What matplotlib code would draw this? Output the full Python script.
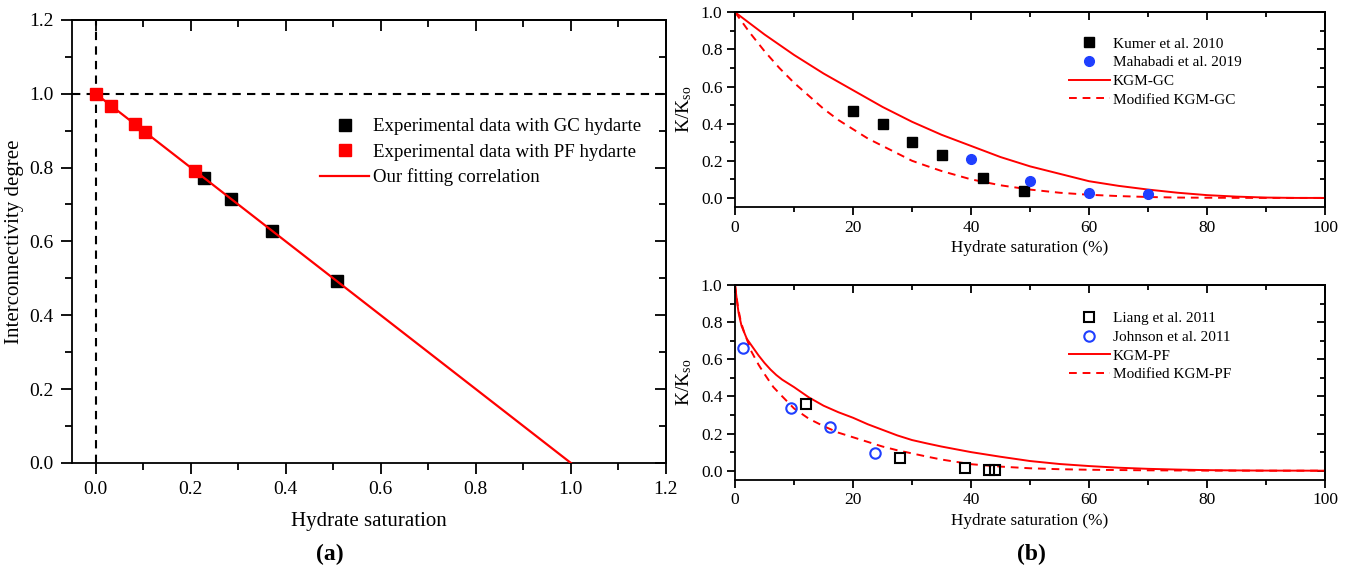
import numpy as np
import matplotlib
matplotlib.use('Agg')
import matplotlib.pyplot as plt
from matplotlib.ticker import MultipleLocator

plt.rcParams['font.family'] = ['Liberation Serif', 'DejaVu Serif']
plt.rcParams['mathtext.fontset'] = 'custom'
plt.rcParams['mathtext.rm'] = 'Liberation Serif'
plt.rcParams['mathtext.it'] = 'Liberation Serif:italic'

# (a) interconnectivity degree vs hydrate saturation
gc_sh = [0.228, 0.285, 0.372, 0.507]
gc_deg = [0.773, 0.714, 0.628, 0.493]
pf_sh = [0.0, 0.033, 0.083, 0.103, 0.210]
pf_deg = [1.0, 0.967, 0.917, 0.897, 0.790]
fit_sh = [0.0, 1.0]
fit_deg = [1.0, 0.0]

# (b) top: GC hydrate
kumer_sh = [20, 25, 30, 35, 42, 49]
kumer_k = [0.47, 0.40, 0.30, 0.23, 0.105, 0.036]
maha_sh = [40, 50, 60, 70]
maha_k = [0.21, 0.089, 0.029, 0.02]
kgm_gc_sh = [0, 2.5, 5, 7.5, 10, 12.5, 15, 17.5, 20, 22.5, 25, 27.5, 30, 32.5, 35, 37.5, 40,
             45, 50, 55, 60, 65, 70, 75, 80, 85, 90, 95, 100]
kgm_gc_k = [1.0, 0.94, 0.88, 0.825, 0.77, 0.72, 0.67, 0.625, 0.58, 0.535, 0.49, 0.45, 0.41,
            0.375, 0.34, 0.31, 0.28, 0.22, 0.17, 0.13, 0.09, 0.065, 0.045, 0.028, 0.015,
            0.007, 0.002, 0.0, 0.0]
mkgm_gc_sh = [0, 2.5, 5, 7.5, 10, 12.5, 15, 17.5, 20, 22.5, 25, 27.5, 30, 32.5, 35, 40, 45,
              50, 55, 60, 65, 70, 75, 80, 90, 100]
mkgm_gc_k = [1.0, 0.89, 0.79, 0.70, 0.62, 0.55, 0.48, 0.42, 0.37, 0.32, 0.28, 0.24, 0.20,
             0.172, 0.145, 0.10, 0.068, 0.045, 0.028, 0.017, 0.01, 0.005, 0.002, 0.001, 0.0, 0.0]

# (b) bottom: PF hydrate
liang_sh = [12, 28, 39, 43, 44]
liang_k = [0.357, 0.07, 0.012, 0.004, 0.004]
johnson_sh = [1.4, 9.5, 16.1, 23.8]
johnson_k = [0.66, 0.34, 0.235, 0.093]
kgm_pf_sh = [0, 0.3, 0.6, 1.1, 2, 3, 4, 5, 6, 7, 8, 9, 10, 12.5, 15, 17.5, 20, 22.5, 25, 27.5,
             30, 32.5, 35, 37.5, 40, 45, 50, 55, 60, 65, 70, 75, 80, 85, 90, 100]
kgm_pf_k = [1.0, 0.92, 0.85, 0.78, 0.71, 0.665, 0.62, 0.58, 0.545, 0.515, 0.49, 0.47, 0.45,
            0.395, 0.35, 0.315, 0.285, 0.25, 0.22, 0.19, 0.165, 0.147, 0.13, 0.115, 0.10,
            0.075, 0.052, 0.036, 0.025, 0.016, 0.01, 0.006, 0.003, 0.0015, 0.0005, 0.0]
mkgm_pf_sh = [0, 0.5, 1, 1.5, 2.8, 4, 5, 6.5, 8, 10, 12.5, 15, 17.5, 20, 22.5, 25, 27.5, 30,
              32.5, 35, 40, 45, 50, 55, 60, 70, 80, 90, 100]
mkgm_pf_k = [1.0, 0.88, 0.80, 0.75, 0.64, 0.57, 0.52, 0.45, 0.40, 0.335, 0.28, 0.24, 0.205,
             0.18, 0.155, 0.13, 0.11, 0.093, 0.076, 0.06, 0.035, 0.022, 0.013, 0.008, 0.005,
             0.002, 0.0005, 0.0, 0.0]

RED = '#ff0000'
BLUE = '#1f3fff'


def mirror_ticks(ax, xmaj, xmin, ymaj, ymin, major_len, minor_len):
    # bottom/left ticks point out, top/right ones point in
    ax.tick_params(which='major', direction='out', length=major_len, width=1.3)
    ax.tick_params(which='minor', direction='out', length=minor_len, width=1.3)
    ax.xaxis.set_major_locator(MultipleLocator(xmaj))
    ax.xaxis.set_minor_locator(MultipleLocator(xmin))
    ax.yaxis.set_major_locator(MultipleLocator(ymaj))
    ax.yaxis.set_minor_locator(MultipleLocator(ymin))
    sx = ax.secondary_xaxis('top')
    sx.xaxis.set_major_locator(MultipleLocator(xmaj))
    sx.xaxis.set_minor_locator(MultipleLocator(xmin))
    sx.tick_params(which='major', direction='in', length=major_len, width=1.3, labeltop=False)
    sx.tick_params(which='minor', direction='in', length=minor_len, width=1.3)
    sy = ax.secondary_yaxis('right')
    sy.yaxis.set_major_locator(MultipleLocator(ymaj))
    sy.yaxis.set_minor_locator(MultipleLocator(ymin))
    sy.tick_params(which='major', direction='in', length=major_len, width=1.3, labelright=False)
    sy.tick_params(which='minor', direction='in', length=minor_len, width=1.3)
    for s in list(ax.spines.values()) + list(sx.spines.values()) + list(sy.spines.values()):
        s.set_linewidth(1.3)


fig = plt.figure(figsize=(13.45, 5.74), dpi=100)

# ---- panel (a)
ax = fig.add_axes([0.0535, 0.1934, 0.4416, 0.772])
ax.axhline(1.0, color='black', lw=1.5, ls=(0, (4, 3)), zorder=1)
ax.axvline(0.0, color='black', lw=1.5, ls=(0, (4, 3)), zorder=1)
ax.plot(gc_sh, gc_deg, 's', color='black', ms=8, label='Experimental data with GC hydarte', zorder=3)
ax.plot(pf_sh, pf_deg, 's', color=RED, ms=8, label='Experimental data with PF hydarte', zorder=3)
ax.plot(fit_sh, fit_deg, '-', color=RED, lw=1.6, label='Our fitting correlation', zorder=4)
ax.set_xlim(-0.05, 1.2)
ax.set_ylim(0, 1.2)
mirror_ticks(ax, 0.2, 0.1, 0.2, 0.1, 8, 5)
ax.xaxis.set_major_formatter(lambda v, p: f'{v:.1f}')
ax.yaxis.set_major_formatter(lambda v, p: f'{v:.1f}')
ax.tick_params(labelsize=14, pad=5)
ax.set_xlabel('Hydrate saturation', fontsize=15, labelpad=10)
ax.set_ylabel('Interconnectivity degree', fontsize=15, labelpad=4)
ax.legend(loc='upper left', bbox_to_anchor=(0.405, 0.795), frameon=False, fontsize=13.6,
          handlelength=2.6, handletextpad=0.2, labelspacing=0.42, borderaxespad=0)
fig.text(0.245, 0.025, '(a)', fontsize=17, fontweight='bold', ha='center')

# ---- panel (b) top
ax1 = fig.add_axes([0.5465, 0.639, 0.4387, 0.3397])
ax1.plot(kumer_sh, kumer_k, 's', color='black', ms=6.5, label='Kumer et al. 2010', zorder=3)
ax1.plot(maha_sh, maha_k, 'o', color=BLUE, ms=7, label='Mahabadi et al. 2019', zorder=3)
ax1.plot(kgm_gc_sh, kgm_gc_k, '-', color=RED, lw=1.4, label='KGM-GC')
ax1.plot(mkgm_gc_sh, mkgm_gc_k, '--', color=RED, lw=1.4, dashes=(4, 3), label='Modified KGM-GC')

# ---- panel (b) bottom
ax2 = fig.add_axes([0.5465, 0.1638, 0.4387, 0.3397])
ax2.plot(liang_sh, liang_k, 's', mfc='none', mec='black', mew=1.5, ms=6.5, label='Liang et al. 2011', zorder=3)
ax2.plot(johnson_sh, johnson_k, 'o', mfc='none', mec=BLUE, mew=1.5, ms=7.5, label='Johnson et al. 2011', zorder=3)
ax2.plot(kgm_pf_sh, kgm_pf_k, '-', color=RED, lw=1.4, label='KGM-PF')
ax2.plot(mkgm_pf_sh, mkgm_pf_k, '--', color=RED, lw=1.4, dashes=(4, 3), label='Modified KGM-PF')

for a, ly in ((ax1, 0.905), (ax2, 0.895)):
    a.set_xlim(0, 100)
    a.set_ylim(-0.05, 1.0)
    mirror_ticks(a, 20, 10, 0.2, 0.1, 6, 3.5)
    a.yaxis.set_major_formatter(lambda v, p: f'{v:.1f}')
    a.tick_params(labelsize=12.5, pad=3)
    a.set_xlabel('Hydrate saturation (%)', fontsize=12.3, labelpad=3)
    a.set_ylabel('K/K$_{\\mathrm{so}}$', fontsize=14, labelpad=5)
    a.legend(loc='upper left', bbox_to_anchor=(0.555, ly), frameon=False, fontsize=11,
             handlelength=2.7, handletextpad=0.2, labelspacing=0.33, borderaxespad=0)

fig.text(0.767, 0.025, '(b)', fontsize=17, fontweight='bold', ha='center')

fig.savefig('out.png', dpi=100)
